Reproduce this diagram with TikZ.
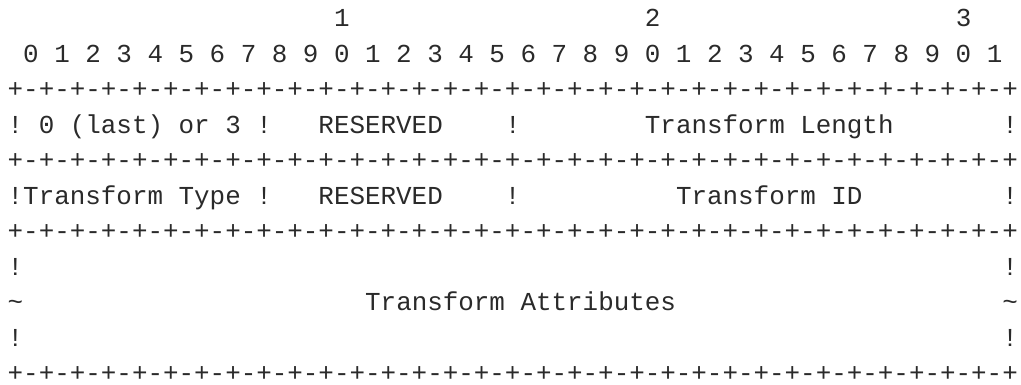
\documentclass[tikz,border=0pt]{standalone}
\usepackage{fontspec}
\setmonofont{Liberation Mono}
\newcommand\sk[1]{\hspace*{#1\fontcharwd\font`\0}}
\newcommand\rulereight{+-+-+-+-+-+-+-+-}
\newcommand\rulerline{\rulereight\rulereight\rulereight\rulereight+}
\definecolor{ink}{HTML}{2A2A2A}
\begin{document}
\begin{tikzpicture}[x=1pt,y=-1pt,
  asciiline/.style={anchor=base west, inner sep=0pt, outer sep=0pt,
    font=\fontsize{25.9}{30}\selectfont\ttfamily, text=ink}]
\useasboundingbox (0,0) rectangle (1021,384);
\node[asciiline] (l1)  at (7.7,26.5)  {\sk{21}1\sk{19}2\sk{19}3};
\node[asciiline] (l2)  at (7.7,62)    {~0~1~2~3~4~5~6~7~8~9~0~1~2~3~4~5~6~7~8~9~0~1~2~3~4~5~6~7~8~9~0~1};
\node[asciiline] (l3)  at (7.7,97.5)  {\rulerline};
\node[asciiline] (l4)  at (7.7,133)   {!~0~(last)~or~3~!\sk{3}RESERVED\sk{4}!\sk{8}Transform~Length\sk{7}!};
\node[asciiline] (l5)  at (7.7,168.5) {\rulerline};
\node[asciiline] (l6)  at (7.7,204)   {!Transform~Type~!\sk{3}RESERVED\sk{4}!\sk{10}Transform~ID\sk{9}!};
\node[asciiline] (l7)  at (7.7,239.5) {\rulerline};
\node[asciiline] (l8)  at (7.7,275)   {!\sk{63}!};
\node[asciiline] (l9)  at (7.7,310.5) {\textasciitilde\sk{22}Transform~Attributes\sk{21}\textasciitilde};
\node[asciiline] (l10) at (7.7,346)   {!\sk{63}!};
\node[asciiline] (l11) at (7.7,381.5) {\rulerline};
\end{tikzpicture}
\end{document}
